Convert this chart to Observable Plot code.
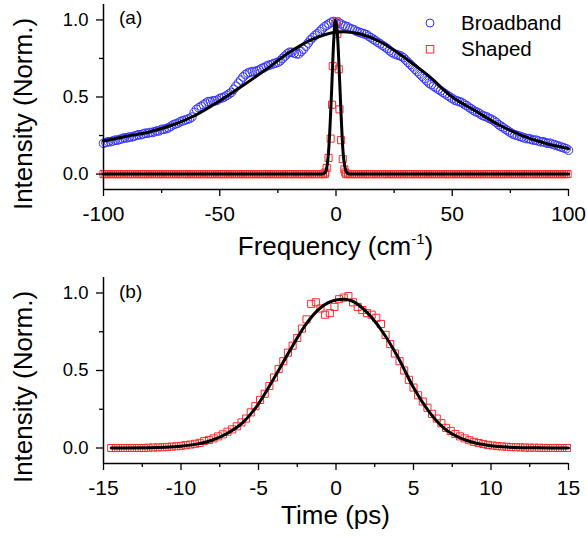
<!DOCTYPE html>
<html>
<head>
<meta charset="utf-8">
<script src="https://cdn.jsdelivr.net/npm/d3@7"></script>
<script src="https://cdn.jsdelivr.net/npm/@observablehq/plot@0.6"></script>
<style>
  html, body { margin: 0; padding: 0; background: white; overflow: hidden; }
  #wrap { width: 587px; }
  svg { display: block; }
</style>
</head>
<body>
<div id="wrap"></div>
<script>
// ---------- Panel (a): frequency domain ----------
const freqTicks = [-100, -50, 0, 50, 100];
const freqMinorTicks = [-75, -25, 25, 75];
const intensityTicks = [0, 0.5, 1.0];
const intensityMinorTicks = [0.25, 0.75];

// Broadband spectrum sampled every 1 cm-1 from -100 to 100
const broadbandX = d3.range(-100, 100.5, 1);
const broadbandY = [
  0.20,0.205,0.21,0.21,0.215,0.22,0.22,0.225,0.23,0.235,
  0.235,0.24,0.24,0.245,0.25,0.255,0.255,0.26,0.265,0.265,
  0.27,0.27,0.275,0.28,0.28,0.29,0.29,0.295,0.30,0.31,
  0.32,0.325,0.33,0.34,0.345,0.35,0.355,0.36,0.37,0.40,
  0.42,0.43,0.44,0.45,0.46,0.47,0.47,0.475,0.475,0.48,
  0.49,0.495,0.50,0.51,0.52,0.53,0.55,0.57,0.59,0.61,
  0.63,0.645,0.655,0.66,0.665,0.665,0.67,0.675,0.685,0.69,
  0.70,0.705,0.71,0.715,0.72,0.725,0.735,0.75,0.765,0.78,
  0.79,0.79,0.785,0.78,0.78,0.795,0.81,0.83,0.85,0.87,
  0.885,0.90,0.91,0.925,0.94,0.955,0.965,0.975,0.985,0.99,
  0.98,0.985,0.975,0.965,0.96,0.955,0.945,0.94,0.935,0.925,
  0.92,0.915,0.91,0.905,0.895,0.885,0.875,0.865,0.855,0.845,
  0.835,0.825,0.815,0.80,0.79,0.78,0.775,0.77,0.765,0.755,
  0.74,0.725,0.71,0.695,0.68,0.665,0.65,0.635,0.62,0.605,
  0.59,0.58,0.57,0.56,0.55,0.54,0.53,0.52,0.51,0.50,
  0.49,0.48,0.475,0.47,0.465,0.455,0.445,0.435,0.425,0.415,
  0.405,0.40,0.39,0.38,0.375,0.37,0.36,0.355,0.345,0.335,
  0.32,0.31,0.30,0.29,0.28,0.27,0.26,0.255,0.25,0.245,
  0.24,0.235,0.23,0.23,0.225,0.22,0.22,0.215,0.21,0.21,
  0.205,0.20,0.20,0.195,0.19,0.185,0.18,0.175,0.17,0.165,
  0.155
];

// Broadband fit
const broadFitX = [-100,-90,-80,-70,-60,-50,-40,-30,-20,-10,0,10,20,30,40,50,60,70,80,90,100];
const broadFitY = [0.215,0.245,0.275,0.32,0.385,0.475,0.575,0.68,0.79,0.875,0.92,0.91,0.85,0.75,0.635,0.50,0.41,0.32,0.25,0.20,0.165];

// Shaped spectrum: flat baseline samples plus the narrow peak
const shapedBaseLeftX = d3.range(-100, -4.6, 0.8);
const shapedBaseRightX = d3.range(4.4, 100.1, 0.8);
const shapedBaseY = 0;
const shapedPeakX = [-4.6,-4.0,-3.2,-2.3,-1.7,-1.4,0.3,0.6,1.2,1.5,2.2,2.9,3.6,4.0];
const shapedPeakY = [0.01,0.04,0.105,0.23,0.45,0.70,0.99,0.91,0.68,0.42,0.22,0.097,0.03,0.01];

// Shaped fit
const shapedFitX = [-100,-6,-5,-4,-3,-2,-1,-0.3,0.5,1,2,3,4,5,6,100];
const shapedFitY = [0,0,0.005,0.04,0.19,0.5,0.86,1.0,0.93,0.8,0.45,0.15,0.035,0.004,0,0];

// ---------- Panel (b): time domain ----------
const timeTicks = [-15, -10, -5, 0, 5, 10, 15];
const timeMinorTicks = [-12.5, -7.5, -2.5, 2.5, 7.5, 12.5];

const timeX = d3.range(-14.5, 15, 0.3);
const timeY = [
  0,0,0,0,0,0,0,0,0.002,0.003,
  0.004,0.005,0.007,0.009,0.011,0.014,0.018,0.022,0.027,0.033,
  0.045,0.052,0.062,0.075,0.088,0.105,0.12,0.14,0.165,0.19,
  0.23,0.27,0.31,0.35,0.40,0.455,0.51,0.56,0.615,0.66,
  0.71,0.77,0.83,0.93,0.94,0.90,0.86,0.87,0.91,0.96,
  0.97,0.98,0.94,0.91,0.89,0.87,0.86,0.84,0.80,0.73,
  0.67,0.61,0.56,0.50,0.44,0.39,0.34,0.30,0.26,0.22,
  0.19,0.16,0.13,0.11,0.09,0.075,0.062,0.05,0.04,0.032,
  0.026,0.02,0.016,0.012,0.01,0.008,0.006,0.005,0.004,0.003,
  0.002,0.002,0.001,0.001,0,0,0,0,0
];

const timeFitX = [-14.5,-12,-11,-10,-9,-8,-7,-6,-5,-4,-3,-2,-1,0,0.5,1,2,3,4,5,6,7,8,9,10,11,12,13,15];
const timeFitY = [0,0.002,0.005,0.012,0.025,0.05,0.095,0.165,0.285,0.45,0.625,0.79,0.905,0.955,0.96,0.95,0.875,0.75,0.585,0.39,0.235,0.125,0.065,0.032,0.015,0.006,0.002,0.001,0];

// ---------- build tables ----------
const broadband = broadbandX.map((x, i) => ({x, y: broadbandY[i]}));
const broadFit = broadFitX.map((x, i) => ({x, y: broadFitY[i]}));
const shaped = [
  ...shapedBaseLeftX.map(x => ({x, y: shapedBaseY})),
  ...shapedPeakX.map((x, i) => ({x, y: shapedPeakY[i]})),
  ...shapedBaseRightX.map(x => ({x, y: shapedBaseY}))
];
const shapedFit = shapedFitX.map((x, i) => ({x, y: shapedFitY[i]}));
const timeData = timeX.map((x, i) => ({x, y: timeY[i]}));
const timeFit = timeFitX.map((x, i) => ({x, y: timeFitY[i]}));

const FONT = "'Liberation Sans', Arial, Helvetica, sans-serif";
const BLUE = "#3030ff";
const RED = "#ff2a2a";

function axes(xMajor, xMinor, xmin, ymin) {
  return [
    Plot.ruleX([xmin], {stroke: "black", strokeWidth: 1.5}),
    Plot.ruleY([ymin], {stroke: "black", strokeWidth: 1.5}),
    Plot.axisX(xMajor, {tickSize: 7, tickPadding: 10, fontSize: 21, strokeWidth: 1.3, label: null, tickFormat: d => String(d)}),
    Plot.axisX(xMinor, {tickSize: 4, strokeWidth: 1.3, label: null, tickFormat: () => ""}),
    Plot.axisY(intensityTicks, {tickSize: 7, tickPadding: 8, fontSize: 18.5, strokeWidth: 1.3, label: null, tickFormat: d => d.toFixed(1)}),
    Plot.axisY(intensityMinorTicks, {tickSize: 4, strokeWidth: 1.3, label: null, tickFormat: () => ""})
  ];
}

const chartA = Plot.plot({
  width: 587, height: 270,
  marginTop: 4, marginBottom: 81, marginLeft: 103, marginRight: 19,
  x: {domain: [-100, 100]},
  y: {domain: [-0.1, 1.1]},
  style: {fontFamily: FONT, color: "black", background: "white", overflow: "visible"},
  marks: [
    Plot.dot(broadband, {x: "x", y: "y", r: 4.3, stroke: BLUE, strokeWidth: 1, fill: "none"}),
    Plot.dot(shaped, {x: "x", y: "y", r: 4, symbol: "square", stroke: RED, strokeWidth: 1, fill: "none"}),
    Plot.line(broadFit, {x: "x", y: "y", stroke: "black", strokeWidth: 3, curve: "catmull-rom"}),
    Plot.line(shapedFit, {x: "x", y: "y", stroke: "black", strokeWidth: 3, curve: "monotone-x"}),
    ...axes(freqTicks, freqMinorTicks, -100, -0.1)
  ]
});

const chartB = Plot.plot({
  width: 587, height: 268,
  marginTop: 7, marginBottom: 75, marginLeft: 103, marginRight: 19,
  x: {domain: [-15, 15]},
  y: {domain: [-0.1, 1.1]},
  style: {fontFamily: FONT, color: "black", background: "white", overflow: "visible"},
  marks: [
    Plot.dot(timeData, {x: "x", y: "y", r: 4, symbol: "square", stroke: RED, strokeWidth: 1, fill: "none"}),
    Plot.line(timeFit, {x: "x", y: "y", stroke: "black", strokeWidth: 3, curve: "monotone-x"}),
    ...axes(timeTicks, timeMinorTicks, -15, -0.1)
  ]
});

const wrap = document.getElementById("wrap");
wrap.appendChild(chartA);
wrap.appendChild(chartB);

function addText(sel, x, y, size, str, anchor = "start") {
  return sel.append("text").attr("x", x).attr("y", y)
    .attr("text-anchor", anchor)
    .style("font-family", FONT).style("font-size", size + "px").attr("fill", "black")
    .text(str);
}

function yLabel(svg, cy) {
  d3.select(svg).append("text")
    .attr("transform", `translate(32,${cy}) rotate(-90)`)
    .attr("text-anchor", "middle")
    .style("font-family", FONT).style("font-size", "26px").attr("fill", "black")
    .text("Intensity (Norm.)");
}

// Panel (a) annotations
{
  const s = d3.select(chartA);
  const cx = chartA.scale("x").apply(0);
  const t = s.append("text").attr("x", cx).attr("y", 255).attr("text-anchor", "middle")
    .style("font-family", FONT).style("font-size", "26px").attr("fill", "black");
  t.append("tspan").text("Frequency (cm");
  t.append("tspan").style("font-size", "15px").attr("dy", -11).text("-1");
  t.append("tspan").attr("dy", 11).text(")");
  yLabel(chartA, 114);
  addText(s, 119, 24, 19, "(a)");
  // legend
  s.append("circle").attr("cx", 430).attr("cy", 23).attr("r", 4).attr("fill", "none").attr("stroke", BLUE).attr("stroke-width", 1);
  addText(s, 461, 30, 20.5, "Broadband");
  s.append("rect").attr("x", 426.3).attr("y", 45.5).attr("width", 7.5).attr("height", 7.5).attr("fill", "none").attr("stroke", RED).attr("stroke-width", 1);
  addText(s, 461, 56, 20.5, "Shaped");
}

// Panel (b) annotations
{
  const s = d3.select(chartB);
  const cx = chartB.scale("x").apply(0);
  addText(s, cx, 254, 26, "Time (ps)", "middle");
  yLabel(chartB, 117);
  addText(s, 119, 28, 19, "(b)");
}
</script>
</body>
</html>
